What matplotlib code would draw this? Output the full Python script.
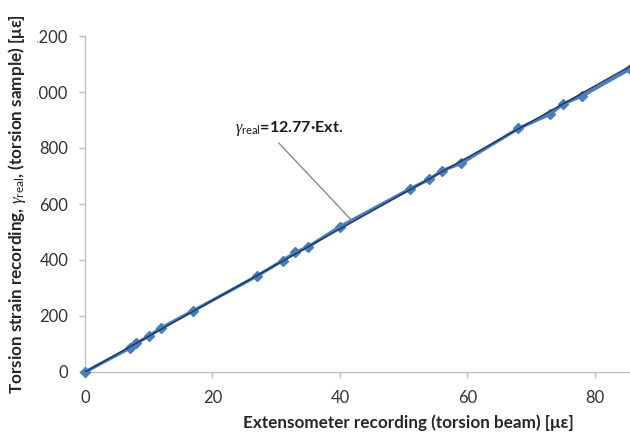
import matplotlib
matplotlib.use('Agg')
import matplotlib.pyplot as plt
import numpy as np

plt.rcParams['font.family'] = ['Lato', 'DejaVu Sans']
plt.rcParams['mathtext.fontset'] = 'custom'
plt.rcParams['mathtext.rm'] = 'Lato'
plt.rcParams['mathtext.it'] = 'Liberation Serif:italic'
plt.rcParams['mathtext.bf'] = 'Lato:bold'

# extensometer reading (torsion beam) vs torsion strain (torsion sample), both in microstrain
ext = [0, 7, 8, 10, 12, 17, 27, 31, 33, 35, 40, 51, 54, 56, 59, 68, 73, 75, 78, 85.5]
gamma = [0, 85, 102, 128, 158, 219, 343, 398, 427, 447, 519, 654, 688, 719, 745, 870, 921, 957, 986, 1082]
slope = 12.77
xticks = [0, 20, 40, 60, 80]
yticks = [0, 200, 400, 600, 800, 1000, 1200]
ytick_labels = ['0', '200', '400', '600', '800', '1.000', '1.200']

fig = plt.figure(figsize=(6.3, 4.34), dpi=100)
ax = fig.add_axes([85/630, 62/434, 545/630, 336/434])

ax.plot(ext, gamma, color='#4A7EBB', lw=2.4, marker='D', ms=5.5, mec='#4A7EBB', clip_on=False, zorder=3)
xf = np.array([0, 85.5])
ax.plot(xf, slope*xf, color='#1F3A5F', lw=1.1, zorder=4)

ax.text(23.5, 870, r'$\gamma_{\rm real}$' + '=12.77·Ext.', fontsize=11.5, fontweight='bold',
        va='center', ha='left', color='#1a1a1a')
ax.annotate('', xy=(41.9, 540), xytext=(30.4, 818),
            arrowprops=dict(arrowstyle='-', color='#7f7f7f', lw=0.9, shrinkA=0, shrinkB=0))

ax.set_xlim(0, 85.5)
ax.set_ylim(0, 1200)
ax.set_xticks(xticks)
ax.set_yticks(yticks)
ax.set_yticklabels(ytick_labels)

for s in ['top', 'right']:
    ax.spines[s].set_visible(False)
for s in ['left', 'bottom']:
    ax.spines[s].set_color('#BFBFBF')
    ax.spines[s].set_linewidth(1.0)
ax.tick_params(axis='both', colors='#BFBFBF', labelcolor='#333333', labelsize=12, length=4, width=1)
ax.tick_params(axis='x', pad=9)
ax.tick_params(axis='y', pad=8)

ax.set_xlabel('Extensometer recording (torsion beam) [με]', fontsize=12.3, fontweight='bold', color='#262626')
ax.xaxis.set_label_coords(0.594, -0.125)
ax.set_ylabel(r'Torsion strain recording, $\gamma_{\rm real}$, (torsion sample) [με]', fontsize=12.3,
              fontweight='bold', color='#262626',
              bbox=dict(facecolor='white', edgecolor='none', pad=6.3))
ax.yaxis.set_label_coords(-57/545, 0.5)

fig.savefig('out.png', dpi=100)
